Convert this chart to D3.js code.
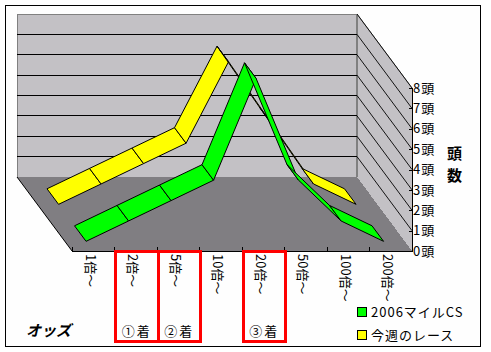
<!DOCTYPE html>
<html>
<head>
<meta charset="utf-8">
<script src="https://cdn.jsdelivr.net/npm/d3@7"></script>
<style>
  html, body { margin: 0; padding: 0; background: #fff; }
  svg { display: block; }
  text { font-family: "Noto Sans CJK JP", sans-serif; fill: #000; }
</style>
</head>
<body>
<svg id="chart" width="491" height="352"></svg>
<script>
const categories = ['1倍〜', '2倍〜', '5倍〜', '10倍〜', '20倍〜', '50倍〜', '100倍〜', '200倍〜'];
const seriesNames = ['2006マイルCS', '今週のレース'];
const mileCsValues = [0, 1, 2, 3, 8, 3, 1, 0];
const thisWeekValues = [0, 1, 2, 3, 7, 4, 1, 0];
const seriesColors = ['#00ff00', '#ffff00'];
const yTicks = [0, 1, 2, 3, 4, 5, 6, 7, 8];
const finishes = [['①着', '2倍〜'], ['②着', '5倍〜'], ['③着', '20倍〜']];

const svg = d3.select('svg#chart');
const LEFT = 72, RIGHT = 412, BOTTOM = 251, TOP = 88;
const DEPTH_X = -55, DEPTH_Y = -74; // how far the back of the box is shifted

const x = d3.scaleBand().domain(categories).range([LEFT, RIGHT]);
const y = d3.scaleLinear().domain([0, 8]).range([BOTTOM, TOP]);
// nearer series gets the small depth
const depth = d3.scaleBand().domain(seriesNames).range([0, 1]).paddingInner(0.58).paddingOuter(0.29).align(0.45);

const project = (cat, v, z) => [x(cat) + x.bandwidth() / 2 + DEPTH_X * z, y(v) + DEPTH_Y * z];
const poly = d3.line().curve(d3.curveLinearClosed);

// outer frame
svg.append('rect')
    .attr('x', 5.5).attr('y', 5.5).attr('width', 475).attr('height', 341)
    .attr('fill', '#fefefe').attr('stroke', '#000').attr('shape-rendering', 'crispEdges');

const box = svg.append('g').attr('shape-rendering', 'crispEdges');
const corner = (px, v, z) => [px + DEPTH_X * z, y(v) + DEPTH_Y * z];

// back wall
box.append('path')
    .attr('d', poly([corner(LEFT, 0, 1), corner(LEFT, 8, 1), corner(RIGHT, 8, 1), corner(RIGHT, 0, 1)]))
    .attr('fill', '#c3c1c5').attr('stroke', '#808080');
// side wall
box.append('path')
    .attr('d', poly([corner(RIGHT, 0, 1), corner(RIGHT, 8, 1), corner(RIGHT, 8, 0), corner(RIGHT, 0, 0)]))
    .attr('fill', '#c3c1c5');
box.append('line')
    .attr('x1', RIGHT + DEPTH_X).attr('x2', RIGHT + DEPTH_X)
    .attr('y1', y(8) + DEPTH_Y).attr('y2', y(0) + DEPTH_Y)
    .attr('stroke', '#808080').attr('stroke-width', 2);
svg.append('line')
    .attr('x1', RIGHT + DEPTH_X).attr('x2', RIGHT)
    .attr('y1', y(8) + DEPTH_Y).attr('y2', y(8))
    .attr('stroke', '#808080');
// floor
box.append('path')
    .attr('d', poly([corner(LEFT, 0, 1), corner(RIGHT, 0, 1), corner(RIGHT, 0, 0), corner(LEFT, 0, 0)]))
    .attr('fill', '#807e82');
svg.append('line')
    .attr('x1', LEFT + DEPTH_X).attr('x2', LEFT)
    .attr('y1', BOTTOM + DEPTH_Y).attr('y2', BOTTOM)
    .attr('stroke', '#000');

// grid lines, back wall and side wall
yTicks.filter(d => d > 0 && d < 8).forEach(d => {
  box.append('line')
      .attr('x1', LEFT + DEPTH_X).attr('x2', RIGHT + DEPTH_X)
      .attr('y1', y(d) + DEPTH_Y).attr('y2', y(d) + DEPTH_Y)
      .attr('stroke', '#000');
});
yTicks.filter(d => d > 0).forEach(d => {
  svg.append('line')
      .attr('x1', RIGHT + DEPTH_X).attr('x2', RIGHT)
      .attr('y1', y(d) + DEPTH_Y).attr('y2', y(d))
      .attr('stroke', '#000').attr('stroke-width', 0.9);
});

// ribbons, far series first
const ribbons = [
  { name: seriesNames[1], values: thisWeekValues, color: seriesColors[1] },
  { name: seriesNames[0], values: mileCsValues, color: seriesColors[0] }
];
ribbons.forEach(s => {
  const zFront = depth(s.name);
  const zBack = zFront + depth.bandwidth();
  const segments = d3.pairs(categories.map((c, i) => ({ c, v: s.values[i] })));
  svg.append('g').selectAll('path')
    .data(segments)
    .join('path')
      .attr('d', ([a, b]) => poly([
        project(a.c, a.v, zBack), project(b.c, b.v, zBack),
        project(b.c, b.v, zFront), project(a.c, a.v, zFront)
      ]))
      .attr('fill', s.color)
      .attr('stroke', '#000')
      .attr('stroke-linejoin', 'round');
});

// value axis on the right
const yAxis = svg.append('g')
    .attr('transform', `translate(${RIGHT},0)`)
    .call(d3.axisRight(y).tickValues(yTicks).tickSize(-3).tickPadding(1).tickFormat(d => `${d}頭`));
yAxis.selectAll('text')
    .style('font-size', '13px').style('letter-spacing', '1px')
    .style('font-family', '"Noto Sans CJK JP", sans-serif');
yAxis.attr('shape-rendering', 'crispEdges');

// category axis, ticks sit on the band edges
const xAxis = svg.append('g').attr('transform', `translate(0,${BOTTOM})`);
xAxis.append('line').attr('x1', LEFT).attr('x2', RIGHT).attr('stroke', '#000').attr('shape-rendering', 'crispEdges');
categories.concat(null).forEach(c => {
  const px = c === null ? RIGHT : x(c);
  xAxis.append('line').attr('x1', px).attr('x2', px).attr('y1', -4).attr('y2', 0)
      .attr('stroke', '#000').attr('shape-rendering', 'crispEdges');
});
xAxis.selectAll('text.cat')
  .data(categories)
  .join('text')
    .attr('class', 'cat')
    .attr('transform', d => `translate(${x(d) + x.bandwidth() / 2 - 3},3) rotate(90)`)
    .attr('dy', '.35em')
    .style('font-size', '13px')
    .text(d => d);

// red boxes for the placed horses
finishes.forEach(([label, cat]) => {
  svg.append('rect')
      .attr('x', x(cat) + 1).attr('y', BOTTOM)
      .attr('width', x.bandwidth()).attr('height', 90)
      .attr('fill', 'none').attr('stroke', '#ff0000').attr('stroke-width', 3)
      .attr('shape-rendering', 'crispEdges');
  svg.append('text')
      .attr('x', x(cat) + x.bandwidth() / 2 + 1).attr('y', 336)
      .attr('text-anchor', 'middle')
      .style('font-size', '13px').style('letter-spacing', '2px')
      .text(label);
});

// titles
svg.append('text')
    .attr('x', 26).attr('y', 336)
    .style('font-size', '15px').style('font-weight', 'bold').style('font-style', 'italic')
    .text('オッズ');
['頭', '数'].forEach((ch, i) => {
  svg.append('text')
      .attr('x', 447).attr('y', 158.5 + i * 22)
      .style('font-size', '15px').style('font-weight', 'bold')
      .text(ch);
});

// legend
seriesNames.forEach((name, i) => {
  const ly = 307 + i * 23;
  svg.append('rect')
      .attr('x', 357.5).attr('y', ly + 0.5).attr('width', 9).attr('height', 9)
      .attr('fill', seriesColors[i]).attr('stroke', '#000').attr('shape-rendering', 'crispEdges');
  svg.append('text')
      .attr('x', 371).attr('y', ly + 10)
      .style('font-size', '13px').style('letter-spacing', '1px')
      .text(name);
});
</script>
</body>
</html>
